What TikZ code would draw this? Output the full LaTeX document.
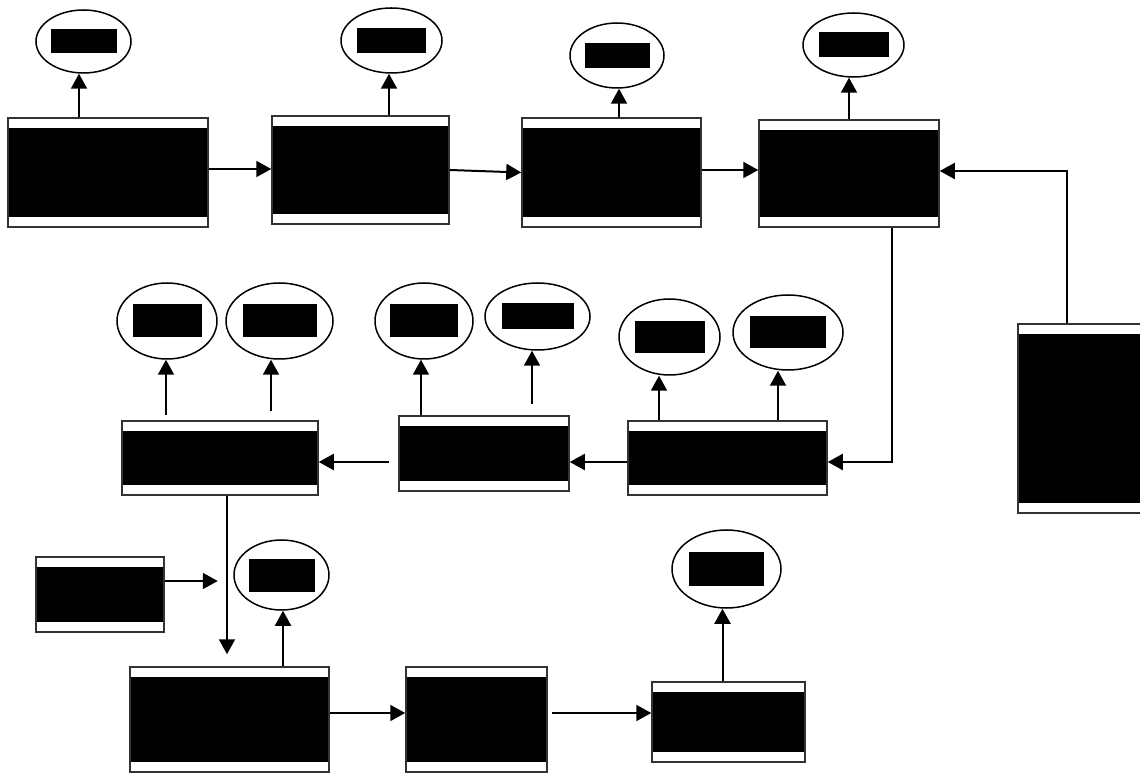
\documentclass[tikz,border=0pt]{standalone}
\usepackage{tikz}
\usetikzlibrary{arrows.meta, shapes.geometric}
\tikzset{
  box/.style={draw=black!80, line width=0.75pt, fill=white, inner sep=0pt,
    path picture={\fill[black] ([xshift=0.4pt,yshift=-5pt]path picture bounding box.north west)
      rectangle ([xshift=-0.4pt,yshift=5pt]path picture bounding box.south east);}},
  oval/.style={draw, ellipse, line width=0.75pt, fill=white, inner sep=0pt},
  arr/.style={-{Triangle[length=7.5pt, width=8pt]}, line width=1pt},
}

\begin{document}
\begin{tikzpicture}[x=0.5pt, y=-0.5pt]
    \useasboundingbox[fill=white] (0,0) rectangle (1140,774);

    \node[box, minimum width=100pt, minimum height=54.5pt] (b1) at (108,172.5) {};
    \node[box, minimum width=88.5pt, minimum height=54pt] (b2) at (360.5,170) {};
    \node[box, minimum width=89.5pt, minimum height=54.5pt] (b3) at (611.5,172.5) {};
    \node[box, minimum width=90pt, minimum height=53.5pt] (b4) at (849,173.5) {};
    \node[box, minimum width=71pt, minimum height=94.5pt] (b5) at (1089,418.5) {};
    \node[box, minimum width=99.5pt, minimum height=37pt] (b6) at (727.5,458) {};
    \node[box, minimum width=85pt, minimum height=37.5pt] (b7) at (484,453.5) {};
    \node[box, minimum width=98pt, minimum height=37pt] (b8) at (220,458) {};
    \node[box, minimum width=64pt, minimum height=37.5pt] (b9) at (100,594.5) {};
    \node[box, minimum width=99.5pt, minimum height=52.5pt] (b10) at (229.5,719.5) {};
    \node[box, minimum width=70.5pt, minimum height=52.5pt] (b11) at (476.5,719.5) {};
    \node[box, minimum width=76.5pt, minimum height=40pt] (b12) at (728.5,722) {};

    \node[oval, minimum width=47.5pt, minimum height=31.5pt] (e1) at (83.5,41.5) {\rule{33pt}{12pt}};
    \node[oval, minimum width=50.5pt, minimum height=32.5pt] (e2) at (391.5,40.5) {\rule{34.5pt}{12.5pt}};
    \node[oval, minimum width=47pt, minimum height=32.5pt] (e3) at (617,55.5) {\rule{32.5pt}{12.5pt}};
    \node[oval, minimum width=50.5pt, minimum height=32pt] (e4) at (853.5,45) {\rule{35pt}{12.5pt}};
    \node[oval, minimum width=50.5pt, minimum height=38pt] (e6a) at (669.5,337) {\rule{35pt}{16pt}};
    \node[oval, minimum width=55pt, minimum height=37.5pt] (e6b) at (788,332.5) {\rule{38pt}{16pt}};
    \node[oval, minimum width=49pt, minimum height=38pt] (e7a) at (424,321) {\rule{34pt}{16.5pt}};
    \node[oval, minimum width=52.5pt, minimum height=33.5pt] (e7b) at (537.5,316.5) {\rule{36pt}{13pt}};
    \node[oval, minimum width=50pt, minimum height=38pt] (e8a) at (167,321) {\rule{34.5pt}{16.5pt}};
    \node[oval, minimum width=53.5pt, minimum height=38pt] (e8b) at (279.5,321) {\rule{37pt}{16.5pt}};
    \node[oval, minimum width=47.5pt, minimum height=35pt] (e10) at (281.5,575) {\rule{33pt}{16.5pt}};
    \node[oval, minimum width=54.5pt, minimum height=39pt] (e12) at (726.5,569) {\rule{37.5pt}{17pt}};

    \coordinate (b9tip) at ([xshift=26.5pt,yshift=6.75pt]b9.east);
    \coordinate (b10in) at ([xshift=-1.25pt,yshift=6pt]b10.north);

    \draw[arr] ([yshift=1.75pt]b1.east) -- ([yshift=1.75pt]b1.east -| b2.west);
    \draw[arr] (b2.east) -- (b3.west);
    \draw[arr] ([yshift=1.25pt]b3.east) -- ([yshift=1.25pt]b3.east -| b4.west);
    \draw[arr] ([xshift=25pt]b5.north west) |- ([yshift=1.25pt]b4.east);
    \draw[arr] ([xshift=21.5pt]b4.south) |- ([yshift=-2pt]b6.east);
    \draw[arr] ([yshift=-2pt]b6.west) -- ([yshift=-2pt]b6.west -| b7.east);
    \draw[arr] ([xshift=-4.5pt,yshift=-4.25pt]b7.west) -- ([yshift=-4.25pt]b7.west -| b8.east);
    \draw[arr] (b8.south -| b10in) -- (b10in);
    \draw[arr] ([yshift=6.75pt]b9.east) -- (b9tip);
    \draw[arr] ([yshift=3.25pt]b10.east) -- ([yshift=3.25pt]b10.east -| b11.west);
    \draw[arr] ([xshift=2pt,yshift=3.25pt]b11.east) -- ([yshift=4.5pt]b12.west);

    \draw[arr] ([xshift=-14.5pt]b1.north) -- ([xshift=-14.5pt]b1.north |- e1.south);
    \draw[arr] ([xshift=14.25pt]b2.north) -- ([xshift=14.25pt]b2.north |- e2.south);
    \draw[arr] ([xshift=3.75pt]b3.north) -- ([xshift=3.75pt]b3.north |- e3.south);
    \draw[arr] (b4.north) -- (b4.north |- e4.south);
    \draw[arr] ([xshift=-34.25pt]b6.north) -- ([xshift=-34.25pt]b6.north |- e6a.south);
    \draw[arr] ([xshift=25.25pt]b6.north) -- ([xshift=25.25pt]b6.north |- e6b.south);
    \draw[arr] ([xshift=-31.5pt]b7.north) -- ([xshift=-31.5pt]b7.north |- e7a.south);
    \draw[arr] ([xshift=24pt,yshift=5.5pt]b7.north) -- ([xshift=24pt]b7.north |- e7b.south);
    \draw[arr] ([xshift=-27pt,yshift=2.5pt]b8.north) -- ([xshift=-27pt]b8.north |- e8a.south);
    \draw[arr] ([xshift=25.5pt,yshift=4.5pt]b8.north) -- ([xshift=25.5pt]b8.north |- e8b.south);
    \draw[arr] ([xshift=26.75pt]b10.north) -- ([xshift=26.75pt]b10.north |- e10.south);
    \draw[arr] ([xshift=-3pt]b12.north) -- ([xshift=-3pt]b12.north |- e12.south);
  \end{tikzpicture}
\end{document}
